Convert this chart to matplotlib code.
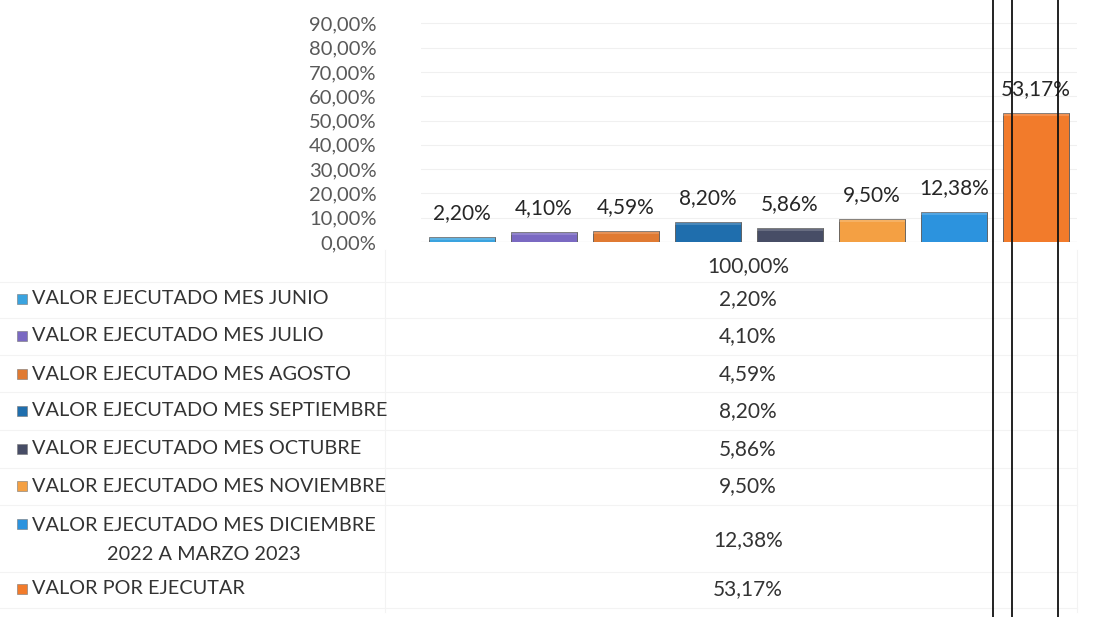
import numpy as np
import matplotlib
matplotlib.use("Agg")
from matplotlib import pyplot as plt
from matplotlib.patches import Rectangle
from matplotlib.lines import Line2D

series = ["VALOR EJECUTADO MES JUNIO", "VALOR EJECUTADO MES JULIO",
          "VALOR EJECUTADO MES AGOSTO", "VALOR EJECUTADO MES SEPTIEMBRE",
          "VALOR EJECUTADO MES OCTUBRE", "VALOR EJECUTADO MES NOVIEMBRE",
          "VALOR EJECUTADO MES DICIEMBRE\n2022 A MARZO 2023",
          "VALOR POR EJECUTAR"]
values = [0.0220, 0.0410, 0.0459, 0.0820, 0.0586, 0.0950, 0.1238, 0.5317]
category = "100,00%"
colors = ["#3aa3df", "#7a69c2", "#e07a32", "#1f6ead", "#474d66",
          "#f4a043", "#2c93de", "#f27b2b"]
yticks = [0.0, 0.1, 0.2, 0.3, 0.4, 0.5, 0.6, 0.7, 0.8, 0.9]

W, H = 1119, 617
FONT = ["Lato", "DejaVu Sans"]
plt.rcParams['font.family'] = FONT


def pct(v):
    return "{:.2f}%".format(v * 100).replace(".", ",")


def fx(x):
    return x / W


def fy(y):
    return 1 - y / H


fig = plt.figure(figsize=(W / 100, H / 100), dpi=100)
fig.patch.set_facecolor("white")

# chart area
x0, x1, ybase = 421, 1077, 242
ax = fig.add_axes([fx(x0), fy(ybase), (x1 - x0) / W, (ybase + 1) / H])
x = np.arange(len(values))
bars = ax.bar(x, values, 0.8, color=colors, edgecolor="#555555", linewidth=0.6, zorder=3)
# soft highlight on the top edge of every bar
ax.bar(x, [min(v, 0.012) for v in values], 0.8, bottom=[v - min(v, 0.012) for v in values],
       color="white", alpha=0.18, linewidth=0, zorder=4)
ax.set_xlim(-0.5, len(values) - 0.5)
ax.set_ylim(0, 1.0)
ax.set_yticks(yticks)
ax.set_yticklabels([pct(v) for v in yticks], color="#595959", fontsize=14.5)
ax.tick_params(axis="y", length=0, pad=32)
ax.set_xticks([])
for s in ax.spines.values():
    s.set_visible(False)
ax.grid(axis="y", color="#f0f0f0", linewidth=0.8, zorder=0)
ax.axhline(0, color="#d8d8d8", linewidth=0.8, zorder=2)
ax.patch.set_alpha(0)

for rect, v in zip(bars, values):
    ax.annotate(pct(v), xy=(rect.get_x() + rect.get_width() / 2, v),
                xytext=(0, 17), textcoords="offset points",
                ha="center", va="center", fontsize=15, color="#262626")

# data table below the chart
vx = 748
fig.text(fx(vx), fy(266), category, ha="center", va="center", fontsize=15, color="#333333")
row_y = [299, 336, 374, 411, 449, 486, 540, 589]
for label, v, c, y in zip(series, values, colors, row_y):
    ty = y - 16 if "\n" in label else y
    fig.add_artist(Rectangle((fx(17), fy(ty + 5)), 10 / W, 10 / H, transform=fig.transFigure,
                             facecolor=c, edgecolor="#777777", linewidth=0.4))
    fig.text(fx(32), fy(y), label, ha="left", va="center", fontsize=14.3,
             color="#333333", multialignment="center", linespacing=1.85)
    fig.text(fx(vx), fy(y), pct(v), ha="center", va="center", fontsize=15, color="#333333")

# faint table rules
for y in [282, 318, 355, 392, 430, 468, 505, 572, 608]:
    fig.add_artist(Line2D([fx(0), fx(x1)], [fy(y), fy(y)], color="#f3f3f3", linewidth=0.8))
for xx in [385, x1]:
    fig.add_artist(Line2D([fx(xx), fx(xx)], [fy(250), fy(612)], color="#f3f3f3", linewidth=0.8))

# dark vertical lines crossing the picture
for xx in [993, 1012, 1058]:
    fig.add_artist(Line2D([fx(xx), fx(xx)], [0, 1], color="#111111", linewidth=1.3))

fig.savefig("out.png", dpi=100, facecolor="white")
